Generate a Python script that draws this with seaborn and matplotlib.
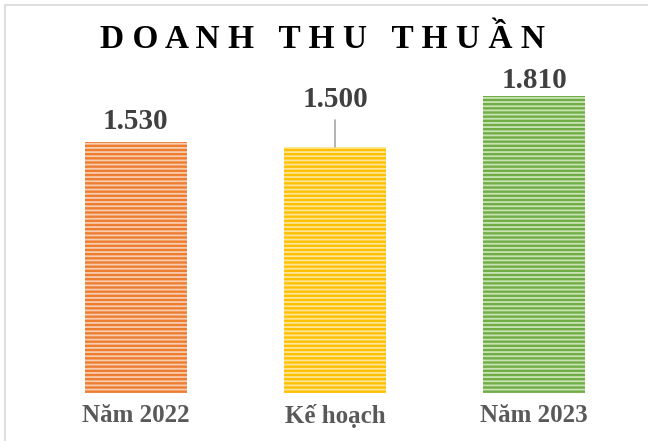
import numpy as np, pandas as pd
import seaborn as sns, matplotlib.pyplot as plt
from matplotlib.lines import Line2D

categories = ["Năm 2022", "Kế hoạch", "Năm 2023"]
values = [1530, 1500, 1810]
value_labels = ["1.530", "1.500", "1.810"]
colors = ["#ED7D31", "#FFC000", "#70AD47"]
stripe_colors = ["#F9CDAF", "#FFE699", "#C9E3B5"]

df = pd.DataFrame({"cat": categories, "val": values})

sns.set_theme(style="white")
plt.rcParams["font.family"] = ["Liberation Serif", "DejaVu Serif"]
plt.rcParams["hatch.linewidth"] = 1.3

fig = plt.figure(figsize=(6.48, 4.41), dpi=100)
ax = fig.add_axes([0.056, 0.109, 0.922, 0.745])
sns.barplot(data=df, x="cat", y="val", hue="cat", palette=colors,
            width=0.51, legend=False, ax=ax, saturation=1)

for bar, sc in zip(ax.patches, stripe_colors):
    bar.set_hatch("----")
    bar.set_edgecolor(sc)
    bar.set_linewidth(0)

ax.set_ylim(0, 2000)
ax.set_xlim(-0.5, 2.5)
sns.despine(ax=ax, left=True, bottom=True)
ax.set_yticks([])
ax.set_xlabel("")
ax.set_ylabel("")
ax.tick_params(axis="x", length=0, pad=8)
for t in ax.get_xticklabels():
    t.set_fontsize(18)
    t.set_fontweight("bold")
    t.set_color("#595959")

# data labels (middle one lifted with a leader line)
label_y = [1650, 1785, 1900]
for i, (v, lab, ly) in enumerate(zip(values, value_labels, label_y)):
    ax.text(i, ly, lab, ha="center", va="center", fontsize=21,
            fontweight="bold", color="#404040")
ax.plot([1, 1], [values[1], 1660], color="#A6A6A6", lw=1.2)

fig.text(0.497, 0.91, "D O A N H   T H U   T H U Ầ N", ha="center", va="center",
         fontsize=24, fontweight="bold", color="black")

# chart frame (cropped: only top and left visible)
fig.add_artist(Line2D([5 / 648, 1], [1 - 5 / 441, 1 - 5 / 441],
                      transform=fig.transFigure, color="#D9D9D9", lw=1.2))
fig.add_artist(Line2D([5 / 648, 5 / 648], [0, 1 - 5 / 441],
                      transform=fig.transFigure, color="#D9D9D9", lw=1.2))

fig.savefig("out.png", dpi=100)
